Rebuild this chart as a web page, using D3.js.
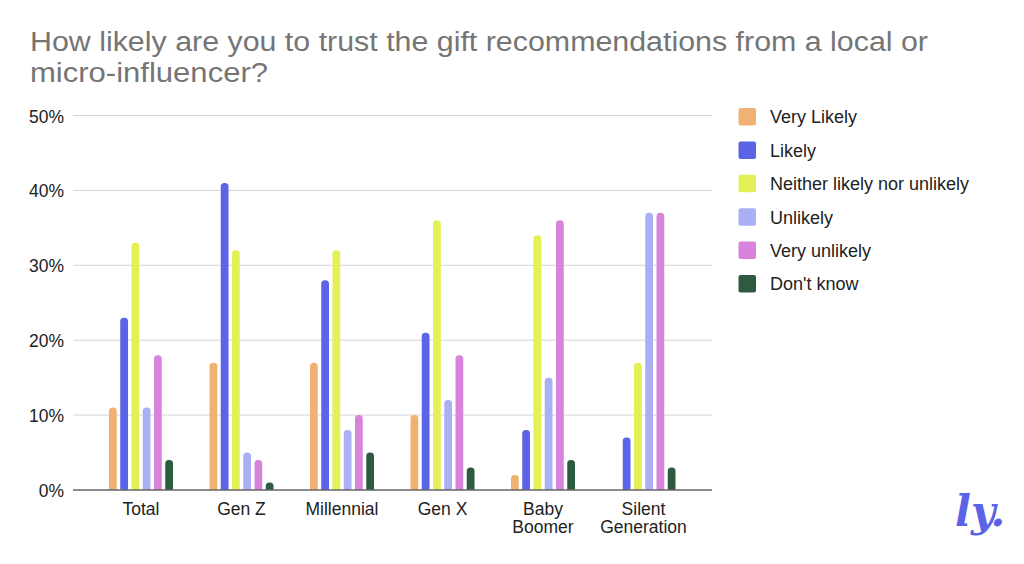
<!DOCTYPE html>
<html><head><meta charset="utf-8">
<script src="https://cdn.jsdelivr.net/npm/d3@7"></script>
<style>
html,body{margin:0;padding:0;background:#fff;}
svg{display:block;font-family:"Liberation Sans",Arial,Helvetica,sans-serif;}
</style></head>
<body>
<svg id="chart" width="1024" height="564"></svg>
<script>
const categories = ["Total", "Gen Z", "Millennial", "Gen X", "Baby Boomer", "Silent Generation"];
const categoryLines = [["Total"], ["Gen Z"], ["Millennial"], ["Gen X"], ["Baby", "Boomer"], ["Silent", "Generation"]];
const seriesNames = ["Very Likely", "Likely", "Neither likely nor unlikely", "Unlikely", "Very unlikely", "Don't know"];
const seriesColors = ["#f0b272", "#5b63e6", "#e3f056", "#abb0f5", "#d884dc", "#2e5b40"];
const veryLikely = [11, 17, 17, 10, 2, 0];
const likely     = [23, 41, 28, 21, 8, 7];
const neither    = [33, 32, 32, 36, 34, 17];
const unlikely   = [11, 5, 8, 12, 15, 37];
const veryUnlikely = [18, 4, 10, 18, 36, 37];
const dontKnow   = [4, 1, 5, 3, 4, 3];
const yTicks = [0, 10, 20, 30, 40, 50];
const titleLines = ["How likely are you to trust the gift recommendations from a local or", "micro-influencer?"];

const seriesValues = [veryLikely, likely, neither, unlikely, veryUnlikely, dontKnow];

const svg = d3.select("#chart");

// title
const titleWidths = [898, 238];
svg.append("g").selectAll("text").data(titleLines).join("text")
  .attr("x", 30).attr("y", (d, i) => 51 + i * 31)
  .attr("fill", "#757575").attr("font-size", 27)
  .attr("textLength", (d, i) => titleWidths[i]).attr("lengthAdjust", "spacingAndGlyphs")
  .text(d => d);

const y = d3.scaleLinear().domain([0, 50]).range([490, 115.5]);
const x0 = d3.scaleBand().domain(categories).range([90.75, 693.75]);
const x1 = d3.scaleBand().domain(seriesNames).range([x0.bandwidth()/2 - 32, x0.bandwidth()/2 + 32]).paddingInner(0.31);

// gridlines
svg.append("g").selectAll("line").data(yTicks.filter(t => t > 0)).join("line")
  .attr("x1", 73).attr("x2", 712)
  .attr("y1", d => y(d)).attr("y2", d => y(d))
  .attr("stroke", "#d6d6d6").attr("stroke-width", 1);

// y labels
svg.append("g").selectAll("text").data(yTicks).join("text")
  .attr("x", 64).attr("y", d => y(d) + 7)
  .attr("text-anchor", "end").attr("font-size", 17.5).attr("fill", "#222")
  .text(d => d + "%");

// bars
function barPath(xp, w, top, bottom) {
  const r = Math.min(w / 2, 3.5, (bottom - top));
  if (bottom - top <= 0) return "";
  return `M${xp},${bottom}V${top + r}Q${xp},${top} ${xp + r},${top}H${xp + w - r}Q${xp + w},${top} ${xp + w},${top + r}V${bottom}Z`;
}
const groups = svg.append("g").selectAll("g").data(categories).join("g")
  .attr("transform", d => `translate(${x0(d)},0)`);
groups.selectAll("path").data((c, ci) => seriesNames.map((s, si) => ({s, si, v: seriesValues[si][ci]})))
  .join("path")
  .attr("d", d => barPath(x1(d.s), x1.bandwidth(), y(d.v), y(0)))
  .attr("fill", d => seriesColors[d.si]);

// baseline
svg.append("line").attr("x1", 73).attr("x2", 712).attr("y1", y(0)).attr("y2", y(0))
  .attr("stroke", "#666").attr("stroke-width", 1.5);

// x labels
const xl = svg.append("g").selectAll("text").data(categories).join("text")
  .attr("x", d => x0(d) + x0.bandwidth() / 2).attr("y", 515)
  .attr("text-anchor", "middle").attr("font-size", 17.5).attr("fill", "#222");
xl.each(function(d, i) {
  d3.select(this).selectAll("tspan").data(categoryLines[i]).join("tspan")
    .attr("x", x0(d) + x0.bandwidth() / 2).attr("dy", (t, j) => j === 0 ? 0 : 18)
    .text(t => t);
});

// legend
const lg = svg.append("g").selectAll("g").data(seriesNames).join("g")
  .attr("transform", (d, i) => `translate(738.5,${108 + i * 33.4})`);
lg.append("rect").attr("width", 17.5).attr("height", 17.5).attr("rx", 2)
  .attr("fill", (d, i) => seriesColors[i]);
lg.append("text").attr("x", 31.5).attr("y", 15.3).attr("font-size", 18).attr("fill", "#222")
  .text(d => d);

// logo
svg.append("text").attr("x", 955).attr("y", 526)
  .attr("font-family", "DejaVu Serif, serif").attr("font-style", "italic").attr("font-weight", "bold")
  .attr("font-size", 42).attr("fill", "#5b63e6").text("ly.");
</script>
</body></html>
